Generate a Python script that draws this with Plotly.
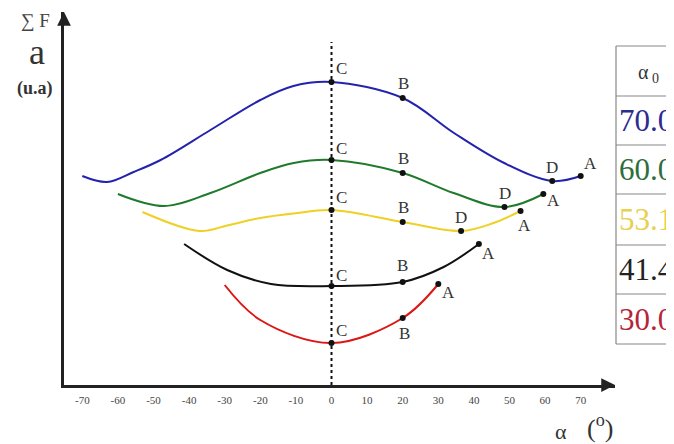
import plotly.graph_objects as go

# ---------------- data ----------------
angle_ticks = [-70, -60, -50, -40, -30, -20, -10, 0, 10, 20, 30, 40, 50, 60, 70]
tick_labels = [str(v) for v in angle_ticks]

alpha0_values = ["70.0", "60.0", "53.1", "41.4", "30.0"]

blue_alpha = [-70, -63, -55.6, -48, -34, -20, -10.7, 0, 20, 34.4, 48.5, 62, 70]
blue_force = [2.09, 2.03, 2.13, 2.25, 2.55, 2.85, 2.99, 3.03, 2.87, 2.52, 2.22, 2.04, 2.09]

green_alpha = [-60, -47, -34, -20, -10.6, 0, 20, 34.3, 48.6, 59.5]
green_force = [1.91, 1.79, 1.92, 2.12, 2.22, 2.25, 2.12, 1.92, 1.78, 1.91]

yellow_alpha = [-53.1, -37, -29.3, -20, -10.7, 0, 20, 36.4, 45.5, 53.1]
yellow_force = [1.73, 1.54, 1.595, 1.67, 1.715, 1.75, 1.63, 1.54, 1.62, 1.74]

black_alpha = [-41.4, -29.3, -17, 0, 20, 31.5, 41.4]
black_force = [1.41, 1.15, 1.01, 0.99, 1.03, 1.18, 1.41]

red_alpha = [-30, -20, 0, 20, 30]
red_force = [1.00, 0.65, 0.42, 0.67, 1.01]

# labelled points (C, B, D, A)
blue_pt_names = ["C", "B", "D", "A"]
blue_pt_alpha = [0, 20, 62, 70]
blue_pt_force = [3.03, 2.87, 2.04, 2.09]

green_pt_names = ["C", "B", "D", "A"]
green_pt_alpha = [0, 20, 48.6, 59.5]
green_pt_force = [2.25, 2.12, 1.78, 1.91]

yellow_pt_names = ["C", "B", "D", "A"]
yellow_pt_alpha = [0, 20, 36.4, 53.1]
yellow_pt_force = [1.75, 1.63, 1.54, 1.74]

black_pt_names = ["C", "B", "A"]
black_pt_alpha = [0, 20, 41.4]
black_pt_force = [0.99, 1.03, 1.41]

red_pt_names = ["C", "B", "A"]
red_pt_alpha = [0, 20, 30]
red_pt_force = [0.42, 0.67, 1.01]

dash_top = 3.43

# ---------------- layout geometry ----------------
# the page body adds an 8px margin; the figure is placed to compensate
OFF = 8
W, H = 674, 444
SL, ST, SR, SB = 64, 12, 615, 385          # plot area edges in screen pixels
L, T = SL - OFF, ST - OFF
R, B = W - (SR - OFF), H - (SB - OFF)
PW, PH = W - L - R, H - T - B


def px_x(px):
    return (px - SL) / PW


def px_y(py):
    return (SB - py) / PH


SERIF = "Liberation Serif, Times New Roman, serif"


def paper_text(px, py, text, size, color="#333", xanchor="center"):
    return dict(x=px_x(px), y=px_y(py), xref="paper", yref="paper", text=text,
                showarrow=False, xanchor=xanchor, yanchor="middle",
                font=dict(family=SERIF, size=size, color=color))


series = [
    (blue_alpha, blue_force, "#2323ad", blue_pt_names, blue_pt_alpha, blue_pt_force,
     {"C": (10, -14), "B": (1, -15), "D": (0, -14), "A": (10, -13)}),
    (green_alpha, green_force, "#1f7a2c", green_pt_names, green_pt_alpha, green_pt_force,
     {"C": (10, -12), "B": (1, -15), "D": (0, -14), "A": (10, 6)}),
    (yellow_alpha, yellow_force, "#efd024", yellow_pt_names, yellow_pt_alpha, yellow_pt_force,
     {"C": (10, -13), "B": (1, -15), "D": (0, -14), "A": (4, 14)}),
    (black_alpha, black_force, "#111111", black_pt_names, black_pt_alpha, black_pt_force,
     {"C": (10, -11), "B": (0, -17), "A": (10, 9)}),
    (red_alpha, red_force, "#dd1515", red_pt_names, red_pt_alpha, red_pt_force,
     {"C": (10, -13), "B": (2, 15), "A": (10, 8)}),
]

fig = go.Figure()

# dashed vertical line at alpha = 0
fig.add_trace(go.Scatter(x=[0, 0], y=[0, dash_top], mode="lines",
                         line=dict(color="#111", width=2, dash="3px,3px"),
                         hoverinfo="skip", showlegend=False))

annotations = []
for xa, ya, col, names, pa, pf, offs in series:
    fig.add_trace(go.Scatter(x=xa, y=ya, mode="lines",
                             line=dict(color=col, width=2, shape="spline", smoothing=1.0),
                             hoverinfo="skip", showlegend=False))
    fig.add_trace(go.Scatter(x=pa, y=pf, mode="markers", marker=dict(color="#111", size=6),
                             hoverinfo="skip", showlegend=False))
    for n, a, f in zip(names, pa, pf):
        dx, dy = offs[n]
        annotations.append(dict(x=a, y=f, xref="x", yref="y", text=n, showarrow=False,
                                xshift=dx, yshift=-dy, xanchor="center", yanchor="middle",
                                font=dict(family=SERIF, size=17, color="#333")))

# axis arrowheads
annotations.append(dict(x=1, y=0, xref="paper", yref="paper", ax=-14, ay=0, showarrow=True,
                        arrowhead=2, arrowsize=1.1, arrowwidth=2.5, arrowcolor="#222", text=""))
annotations.append(dict(x=0, y=1, xref="paper", yref="paper", ax=0, ay=14, showarrow=True,
                        arrowhead=2, arrowsize=1.1, arrowwidth=2.5, arrowcolor="#222", text=""))

# y-axis title block
annotations.append(paper_text(35, 21, "∑ F", 19, "#444"))
annotations.append(paper_text(37, 52, "a", 36))
annotations.append(paper_text(35, 88, "<b>(u.a)</b>", 18))

# x-axis title
annotations.append(paper_text(561, 431, "α", 22))
annotations.append(paper_text(600, 426, "(<sup>o</sup>)", 26))

# table
row_lines = [46, 96, 145, 194, 245, 294, 344]
shapes = []
for py in row_lines:
    shapes.append(dict(type="line", xref="paper", yref="paper", x0=px_x(616), x1=px_x(700),
                       y0=px_y(py), y1=px_y(py), line=dict(color="#888888", width=1.2)))
shapes.append(dict(type="line", xref="paper", yref="paper", x0=px_x(616), x1=px_x(616),
                   y0=px_y(row_lines[0]), y1=px_y(row_lines[-1]),
                   line=dict(color="#888888", width=1.2)))

annotations.append(paper_text(648, 73, "α<sub> 0</sub>", 20))
table_colors = ["#2b2b90", "#2e6e3a", "#e8d050", "#222222", "#b3263a"]
for i, (txt, c) in enumerate(zip(alpha0_values, table_colors)):
    yc = (row_lines[i + 1] + row_lines[i + 2]) / 2
    annotations.append(paper_text(617, yc, txt, 31, c, xanchor="left"))

x0 = (SL - 331.5) / 3.56
x1 = (SR - 331.5) / 3.56
fig.update_layout(
    width=W, height=H,
    margin=dict(l=L, r=R, t=T, b=B, pad=0),
    paper_bgcolor="white", plot_bgcolor="white",
    xaxis=dict(range=[x0, x1], tickvals=angle_ticks, ticktext=tick_labels, showgrid=False,
               zeroline=False, showline=True, linecolor="#222", linewidth=2.5, ticks="",
               tickfont=dict(family=SERIF, size=11, color="#444"), ticklabelstandoff=3),
    yaxis=dict(range=[0, (SB - ST) / 100], showgrid=False, zeroline=False, showticklabels=False,
               showline=True, linecolor="#222", linewidth=2.5, ticks=""),
    annotations=annotations,
    shapes=shapes,
)

fig.write_html("out.html")
